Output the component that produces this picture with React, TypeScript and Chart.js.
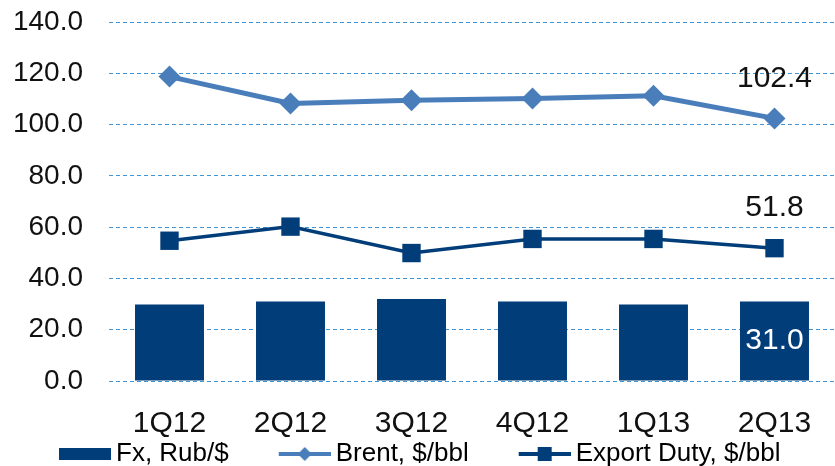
import React, { useEffect, useRef } from 'react';
import { Chart, registerables } from 'chart.js';

Chart.register(...registerables);

const categories = ['1Q12', '2Q12', '3Q12', '4Q12', '1Q13', '2Q13'];
const fxValues = [29.8, 31.0, 32.0, 31.0, 29.8, 31.0];
const brentValues = [118.7, 108.2, 109.5, 110.2, 111.2, 102.4];
const exportDutyValues = [54.7, 60.2, 49.9, 55.4, 55.4, 51.8];
const yTicks = [0, 20, 40, 60, 80, 100, 120, 140];
const seriesNames = ['Fx, Rub/$', 'Brent, $/bbl', 'Export Duty, $/bbl'];

const NAVY = '#003d79';
const BRENT = '#4a7ebb';
const GRID = '#3f95d6';
const TEXT = '#111111';
const FONT = "Arial, 'Liberation Sans', sans-serif";
const LEGEND_BOX = 90;

function legendImage(kind: number): HTMLCanvasElement {
  const c = document.createElement('canvas');
  c.width = LEGEND_BOX + 16;
  c.height = 26;
  const ctx = c.getContext('2d')!;
  const x0 = LEGEND_BOX - 36;
  const x1 = LEGEND_BOX + 16;
  const cy = 13;
  const cx = (x0 + x1) / 2;
  if (kind === 0) {
    ctx.fillStyle = NAVY;
    ctx.fillRect(x0, cy - 6, x1 - x0, 12);
  } else {
    const color = kind === 1 ? BRENT : NAVY;
    ctx.strokeStyle = color;
    ctx.lineWidth = 4;
    ctx.beginPath();
    ctx.moveTo(x0, cy);
    ctx.lineTo(x1, cy);
    ctx.stroke();
    ctx.fillStyle = color;
    if (kind === 1) {
      ctx.beginPath();
      ctx.moveTo(cx - 7, cy);
      ctx.lineTo(cx, cy - 7);
      ctx.lineTo(cx + 7, cy);
      ctx.lineTo(cx, cy + 7);
      ctx.closePath();
      ctx.fill();
    } else {
      ctx.fillRect(cx - 7, cy - 7, 14, 14);
    }
  }
  return c;
}

const valueLabels = {
  id: 'valueLabels',
  afterDatasetsDraw(chart: any) {
    const ctx = chart.ctx;
    const last = categories.length - 1;
    ctx.save();
    ctx.textAlign = 'center';
    ctx.textBaseline = 'middle';
    ctx.font = `30px ${FONT}`;
    const bar = chart.getDatasetMeta(0).data[last].getProps(['x', 'y', 'base'], true);
    ctx.fillStyle = '#ffffff';
    ctx.fillText(fxValues[last].toFixed(1), bar.x, (bar.y + bar.base) / 2);
    ctx.fillStyle = TEXT;
    const b = chart.getDatasetMeta(1).data[last].getProps(['x', 'y'], true);
    ctx.fillText(brentValues[last].toFixed(1), b.x, b.y - 40);
    const e = chart.getDatasetMeta(2).data[last].getProps(['x', 'y'], true);
    ctx.fillText(exportDutyValues[last].toFixed(1), e.x, e.y - 40);
    ctx.restore();
  },
};

export default function App() {
  const ref = useRef<HTMLCanvasElement>(null);
  useEffect(() => {
    const images = [legendImage(0), legendImage(1), legendImage(2)];
    const chart = new Chart(ref.current!, {
      type: 'bar',
      data: {
        labels: categories,
        datasets: [
          {
            type: 'bar',
            label: seriesNames[0],
            data: fxValues,
            backgroundColor: NAVY,
            categoryPercentage: 1,
            barPercentage: 0.57,
          },
          {
            type: 'line',
            label: seriesNames[1],
            data: brentValues,
            borderColor: BRENT,
            backgroundColor: BRENT,
            borderWidth: 5,
            pointStyle: 'rectRot',
            pointRadius: 11,
            pointBorderWidth: 0,
            pointBackgroundColor: BRENT,
          },
          {
            type: 'line',
            label: seriesNames[2],
            data: exportDutyValues,
            borderColor: NAVY,
            backgroundColor: NAVY,
            borderWidth: 3.5,
            pointStyle: 'rect',
            pointRadius: 13,
            pointBorderWidth: 0,
            pointBackgroundColor: NAVY,
          },
        ] as any,
      },
      options: {
        responsive: false,
        animation: false,
        devicePixelRatio: 1,
        layout: { autoPadding: false, padding: { left: 9, right: 0, top: 22, bottom: 0 } },
        plugins: {
          tooltip: { enabled: false },
          legend: {
            position: 'bottom',
            align: 'start',
            maxHeight: 29,
            labels: {
              usePointStyle: true,
              pointStyleWidth: LEGEND_BOX,
              padding: 4,
              color: TEXT,
              font: { size: 26, family: FONT },
              generateLabels: () =>
                seriesNames.map((name, i) => ({
                  text: name,
                  pointStyle: images[i] as any,
                  fillStyle: i === 1 ? BRENT : NAVY,
                  strokeStyle: i === 1 ? BRENT : NAVY,
                  lineWidth: 0,
                  hidden: false,
                  datasetIndex: i,
                })),
            },
          } as any,
        },
        scales: {
          x: {
            grid: { display: false },
            border: { display: false },
            ticks: {
              color: TEXT,
              font: { size: 30, family: FONT },
              padding: 17,
              maxRotation: 0,
            },
            afterFit: (s: any) => {
              s.height = 56;
              s.paddingLeft = 0;
              s.paddingRight = 0;
            },
          },
          y: {
            min: 0,
            max: 140,
            grid: { color: GRID, lineWidth: 1, drawTicks: false },
            border: { display: false, dash: [4, 3] },
            ticks: {
              color: TEXT,
              font: { size: 28, family: FONT },
              padding: 26,
              callback: (v: any) => Number(v).toFixed(1),
            },
            afterBuildTicks: (s: any) => {
              s.ticks = yTicks.map((v) => ({ value: v }));
            },
            afterFit: (s: any) => {
              s.width = 100;
              s.paddingTop = 0;
              s.paddingBottom = 0;
            },
          },
        },
      },
      plugins: [valueLabels],
    });
    return () => chart.destroy();
  }, []);
  return (
    <div style={{ position: 'fixed', left: 0, top: 0, width: 835, height: 466, background: '#fff' }}>
      <canvas ref={ref} width={835} height={466} style={{ display: 'block' }} />
    </div>
  );
}
